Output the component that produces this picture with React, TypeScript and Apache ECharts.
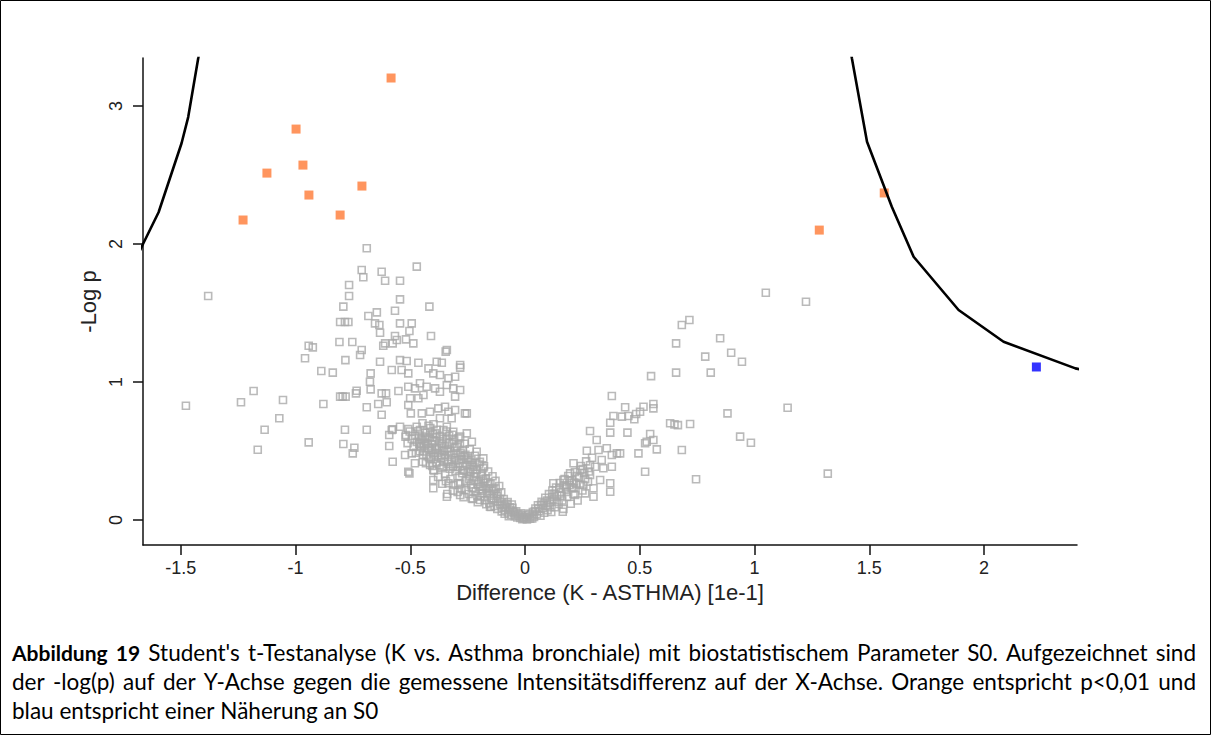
import React, { useEffect, useRef } from "react";
import * as echarts from "echarts";

const xTickValues = [-1.5, -1, -0.5, 0, 0.5, 1, 1.5, 2];
const yTickValues = [0, 1, 2, 3];
const xAxisName = "Difference (K - ASTHMA) [1e-1]";
const yAxisName = "-Log p";

// grey: not significant (sparse / outlying proteins)
const greyOuter: [number, number][] = [
  [-1.381, 1.623], [-1.478, 0.828], [-1.238, 0.853], [-1.183, 0.935], [-1.055, 0.87], [-1.135, 0.654],
  [-1.071, 0.737], [-1.165, 0.509], [-0.943, 0.563], [-0.879, 0.841], [-0.959, 1.172], [-0.943, 1.263],
  [-0.925, 1.251], [-0.888, 1.08], [-0.838, 1.068], [-0.809, 1.29], [-0.783, 1.159], [-0.753, 1.29],
  [-0.792, 1.546], [-0.767, 1.623], [-0.767, 1.703], [-0.806, 1.435], [-0.785, 1.435], [-0.77, 1.435],
  [-0.712, 1.232], [-0.719, 1.196], [-0.683, 1.478], [-0.646, 1.505], [-0.654, 1.425], [-0.635, 1.413],
  [-0.632, 1.357], [-0.61, 1.28], [-0.618, 1.263], [-0.567, 1.517], [-0.545, 1.599], [-0.545, 1.425],
  [-0.494, 1.425], [-0.519, 1.309], [-0.487, 1.28], [-0.417, 1.546], [-0.41, 1.333], [-0.632, 1.147],
  [-0.673, 1.063], [-0.676, 1.002], [-0.673, 0.947], [-0.734, 0.937], [-0.737, 0.918], [-0.806, 0.894],
  [-0.795, 0.894], [-0.782, 0.894], [-0.69, 0.817], [-0.64, 0.841], [-0.603, 0.853], [-0.625, 0.918],
  [-0.606, 0.918], [-0.625, 0.763], [-0.785, 0.654], [-0.69, 0.654], [-0.792, 0.551], [-0.744, 0.524],
  [-0.751, 0.483], [-0.577, 0.422], [-0.504, 0.338], [-0.592, 0.536], [-0.592, 0.616], [-0.577, 0.657],
  [-0.545, 0.676], [-0.523, 0.471], [-0.494, 0.483], [-0.48, 0.411], [-0.446, 0.422],
  [-0.69, 1.969], [-0.712, 1.812], [-0.705, 1.759], [-0.625, 1.799], [-0.61, 1.734], [-0.545, 1.734],
  [-0.472, 1.836],
  [-0.504, 1.37], [-0.567, 1.333], [-0.559, 1.304], [-0.577, 1.28], [-0.341, 1.232], [-0.346, 1.22],
  [-0.545, 1.159], [-0.516, 1.152], [-0.465, 1.14], [-0.385, 1.147], [-0.363, 1.14], [-0.283, 1.123],
  [-0.581, 1.087], [-0.538, 1.087], [-0.509, 1.063], [-0.283, 1.104], [-0.421, 1.099], [-0.4, 1.063],
  [-0.371, 1.051], [-0.334, 1.027], [-0.305, 1.038], [-0.552, 0.935],
  [-0.509, 0.966], [-0.48, 0.954], [-0.458, 0.991], [-0.429, 0.966], [-0.392, 0.954], [-0.371, 0.93],
  [-0.341, 0.978], [-0.313, 0.954], [-0.283, 0.942], [-0.305, 0.894], [-0.501, 0.882], [-0.465, 0.882],
  [-0.443, 0.906], [-0.509, 0.833], [-0.498, 0.773], [-0.45, 0.773], [-0.414, 0.785], [-0.378, 0.809],
  [-0.349, 0.821], [-0.334, 0.785], [-0.305, 0.797], [-0.262, 0.773], [-0.371, 0.737], [-0.32, 0.737],
  [-0.581, 0.652], [-0.509, 0.659], [-0.472, 0.676], [-0.519, 0.616], [-0.458, 0.652], [-0.414, 0.64],
  [-0.392, 0.628], [-0.436, 0.592], [-0.407, 0.58], [-0.458, 0.556], [-0.421, 0.52], [-0.341, 0.676],
  [-0.313, 0.64], [-0.283, 0.604], [-0.254, 0.628], [-0.232, 0.567],
  [-0.385, 0.52], [-0.363, 0.471], [-0.341, 0.495], [-0.32, 0.435], [-0.283, 0.471], [-0.24, 0.422],
  [-0.211, 0.495], [-0.182, 0.447], [-0.414, 0.399], [-0.363, 0.375], [-0.313, 0.386], [-0.269, 0.362],
  [-0.225, 0.386], [-0.182, 0.375],
  [-0.254, 0.773], [-0.509, 0.35], [-0.4, 0.483], [-0.4, 0.362], [-0.4, 0.29], [-0.4, 0.23],
  [-0.356, 0.386], [-0.334, 0.266], [-0.341, 0.169], [-0.291, 0.266], [-0.283, 0.181], [-0.232, 0.23],
  [-0.232, 0.157], [-0.196, 0.145], [-0.196, 0.241], [-0.153, 0.096],
  [0.549, 1.043], [0.658, 1.068], [0.378, 0.899], [0.436, 0.817], [0.516, 0.821], [0.559, 0.841],
  [0.501, 0.785], [0.559, 0.809], [0.385, 0.754], [0.422, 0.749], [0.45, 0.754], [0.476, 0.73],
  [0.484, 0.768], [0.371, 0.705], [0.632, 0.701], [0.651, 0.693], [0.666, 0.688], [0.719, 0.696],
  [0.283, 0.645], [0.371, 0.633], [0.446, 0.633], [0.545, 0.623], [0.53, 0.567], [0.559, 0.58],
  [0.574, 0.512], [0.494, 0.483], [0.523, 0.556], [0.523, 0.35], [0.312, 0.58], [0.32, 0.507],
  [0.269, 0.502], [0.356, 0.52], [0.378, 0.471], [0.4, 0.483], [0.414, 0.483],
  [0.334, 0.435], [0.378, 0.386], [0.341, 0.375], [0.305, 0.386], [0.283, 0.326], [0.24, 0.362],
  [0.211, 0.411], [0.196, 0.338], [0.167, 0.29], [0.123, 0.266], [0.371, 0.266], [0.298, 0.23],
  [0.254, 0.254], [0.211, 0.23], [0.182, 0.241], [0.298, 0.169], [0.262, 0.193], [0.218, 0.181],
  [0.371, 0.205], [0.327, 0.29], [0.164, 0.06],
  [1.049, 1.647], [1.224, 1.582], [0.716, 1.449], [0.683, 1.413], [0.85, 1.317], [0.658, 1.28],
  [0.785, 1.184], [0.898, 1.212], [0.945, 1.147], [0.809, 1.068], [1.144, 0.814], [0.882, 0.773],
  [0.937, 0.604], [0.984, 0.56], [0.683, 0.507], [0.745, 0.295], [1.319, 0.336],
];

// grey: dense V-shaped core around zero difference
const greyCore: [number, number][] = [
  [-0.012, 0.006], [-0.021, 0.015], [-0.008, 0.02], [-0.034, 0.018], [-0.029, 0.041], [-0.045, 0.027],
  [-0.052, 0.061], [-0.061, 0.038], [-0.067, 0.092], [-0.074, 0.055], [-0.081, 0.118], [-0.086, 0.071],
  [-0.093, 0.152], [-0.098, 0.087], [-0.104, 0.201], [-0.109, 0.112], [-0.113, 0.246], [-0.118, 0.138],
  [-0.124, 0.175], [-0.129, 0.284], [-0.133, 0.102], [-0.138, 0.221], [-0.142, 0.317], [-0.147, 0.158],
  [-0.151, 0.262], [-0.156, 0.123], [-0.161, 0.352], [-0.166, 0.198], [-0.171, 0.301], [-0.175, 0.143],
  [-0.179, 0.389], [-0.184, 0.244], [-0.188, 0.336], [-0.193, 0.171], [-0.197, 0.421], [-0.202, 0.278],
  [-0.206, 0.129], [-0.211, 0.362], [-0.215, 0.208], [-0.219, 0.466], [-0.224, 0.315], [-0.228, 0.152],
  [-0.233, 0.398], [-0.237, 0.257], [-0.241, 0.512], [-0.246, 0.189], [-0.25, 0.347], [-0.255, 0.438],
  [-0.259, 0.284], [-0.263, 0.553], [-0.268, 0.166], [-0.272, 0.391], [-0.277, 0.226], [-0.281, 0.487],
  [-0.286, 0.318], [-0.29, 0.592], [-0.294, 0.203], [-0.299, 0.431], [-0.303, 0.356], [-0.308, 0.524],
  [-0.312, 0.255], [-0.317, 0.618], [-0.321, 0.472], [-0.325, 0.297], [-0.33, 0.561], [-0.334, 0.408],
  [-0.339, 0.189], [-0.343, 0.642], [-0.348, 0.337], [-0.352, 0.503], [-0.357, 0.588], [-0.361, 0.263],
  [-0.366, 0.447], [-0.37, 0.611], [-0.375, 0.532], [-0.379, 0.312], [-0.384, 0.654], [-0.388, 0.418],
  [-0.393, 0.571], [-0.397, 0.359], [-0.402, 0.623], [-0.407, 0.506], [-0.411, 0.441], [-0.416, 0.598],
  [-0.421, 0.683], [-0.425, 0.553], [-0.43, 0.472], [-0.436, 0.632], [-0.441, 0.537], [-0.447, 0.701],
  [-0.453, 0.589], [-0.459, 0.498], [-0.466, 0.643], [-0.472, 0.566], [-0.479, 0.611], [-0.486, 0.529],
  [-0.494, 0.588], [-0.503, 0.642], [-0.512, 0.557], [-0.521, 0.603],
  [-0.058, 0.112], [-0.071, 0.028], [-0.089, 0.045], [-0.102, 0.063], [-0.121, 0.081], [-0.136, 0.192],
  [-0.149, 0.094], [-0.158, 0.231], [-0.169, 0.114], [-0.182, 0.296], [-0.19, 0.212], [-0.208, 0.173],
  [-0.217, 0.412], [-0.226, 0.234], [-0.238, 0.352], [-0.245, 0.297], [-0.257, 0.218], [-0.266, 0.461],
  [-0.274, 0.339], [-0.283, 0.262], [-0.292, 0.384], [-0.305, 0.452], [-0.314, 0.213], [-0.327, 0.372],
  [-0.336, 0.518], [-0.345, 0.281], [-0.354, 0.421], [-0.363, 0.551], [-0.372, 0.397], [-0.381, 0.487],
  [-0.395, 0.458], [-0.404, 0.392], [-0.418, 0.518], [-0.432, 0.411], [-0.445, 0.469], [-0.461, 0.552],
  [-0.476, 0.487],
  [-0.462, 0.612], [-0.455, 0.532], [-0.448, 0.577], [-0.439, 0.496], [-0.433, 0.561], [-0.427, 0.604],
  [-0.419, 0.455], [-0.413, 0.667], [-0.406, 0.548], [-0.399, 0.694], [-0.391, 0.512], [-0.386, 0.598],
  [-0.377, 0.458], [-0.369, 0.571], [-0.362, 0.508], [-0.356, 0.652], [-0.35, 0.469], [-0.344, 0.583],
  [-0.338, 0.431], [-0.331, 0.611], [-0.326, 0.497], [-0.319, 0.553], [-0.315, 0.392], [-0.309, 0.581],
  [-0.302, 0.486], [-0.296, 0.528], [-0.289, 0.412], [-0.284, 0.552], [-0.278, 0.441], [-0.271, 0.509],
  [-0.265, 0.358], [-0.26, 0.472], [-0.253, 0.401], [-0.247, 0.448], [-0.24, 0.318], [-0.234, 0.434],
  [-0.227, 0.367], [-0.221, 0.289], [-0.214, 0.336], [-0.207, 0.258], [-0.2, 0.402], [-0.192, 0.319],
  [-0.186, 0.192], [-0.177, 0.268], [-0.17, 0.229], [-0.163, 0.274], [-0.154, 0.186], [-0.146, 0.211],
  [-0.137, 0.158], [-0.128, 0.226], [-0.119, 0.189], [-0.11, 0.154], [-0.101, 0.131], [-0.092, 0.109],
  [-0.083, 0.091], [-0.076, 0.131], [-0.064, 0.071], [-0.055, 0.089], [-0.047, 0.052], [-0.039, 0.063],
  [-0.026, 0.029], [-0.018, 0.048],
  [0.008, 0.004], [0.015, 0.018], [0.022, 0.009], [0.028, 0.031], [0.034, 0.058], [0.039, 0.022],
  [0.045, 0.083], [0.051, 0.041], [0.056, 0.107], [0.062, 0.064], [0.067, 0.031], [0.072, 0.132],
  [0.077, 0.087], [0.083, 0.053], [0.088, 0.161], [0.093, 0.104], [0.098, 0.072], [0.104, 0.188],
  [0.109, 0.129], [0.114, 0.058], [0.119, 0.214], [0.124, 0.151], [0.13, 0.093], [0.135, 0.236],
  [0.14, 0.176], [0.146, 0.117], [0.151, 0.268], [0.156, 0.203], [0.162, 0.142], [0.167, 0.081],
  [0.172, 0.297], [0.177, 0.228], [0.183, 0.167], [0.188, 0.319], [0.194, 0.254], [0.199, 0.118],
  [0.205, 0.288], [0.211, 0.189], [0.217, 0.348], [0.223, 0.262], [0.229, 0.142], [0.236, 0.307],
  [0.243, 0.392], [0.25, 0.214], [0.258, 0.341], [0.266, 0.425], [0.274, 0.278], [0.283, 0.397],
  [0.292, 0.451], [-0.005, 0.012], [0.004, 0.024], [-0.016, 0.035], [0.012, 0.038],
  [0.019, 0.046], [0.031, 0.011], [0.043, 0.064], [0.058, 0.083], [0.069, 0.109], [0.081, 0.122],
  [0.096, 0.141], [0.107, 0.093], [0.117, 0.168], [0.128, 0.191], [0.138, 0.132], [0.149, 0.229],
  [0.159, 0.176], [0.171, 0.252], [0.181, 0.204], [0.193, 0.286], [0.203, 0.231], [0.214, 0.271],
  [0.226, 0.318], [0.238, 0.256], [0.251, 0.369], [0.262, 0.296], [0.278, 0.352],
];

// orange: p < 0.01
const orangePoints: [number, number][] = [
  [-1.229, 2.174], [-1.125, 2.514], [-0.998, 2.833], [-0.968, 2.572], [-0.942, 2.355],
  [-0.806, 2.21], [-0.711, 2.42], [-0.584, 3.203], [1.282, 2.101], [1.565, 2.37],
];

// blue: close to S0
const bluePoints: [number, number][] = [[2.228, 1.109]];

// S0 significance curves
const leftCurve: [number, number][] = [
  [-1.7, 1.88], [-1.665, 2.0], [-1.597, 2.23], [-1.497, 2.73], [-1.468, 2.92], [-1.424, 3.35], [-1.41, 3.49],
];
const rightCurve: [number, number][] = [
  [1.41, 3.5], [1.424, 3.346], [1.49, 2.741], [1.598, 2.27], [1.693, 1.908], [1.889, 1.522],
  [2.085, 1.292], [2.398, 1.099], [2.45, 1.08],
];

const captionBold = "Abbildung 19";
const captionLines = [
  "Student's t-Testanalyse (K vs. Asthma bronchiale) mit biostatistischem Parameter S0. Aufgezeichnet sind",
  "der -log(p) auf der Y-Achse gegen die gemessene Intensitätsdifferenz auf der X-Achse. Orange entspricht p<0,01 und",
  "blau entspricht einer Näherung an S0",
];
const captionJustified = [true, true, false];

const CAPTION_FAMILY = "Lato";
const CAPTION_SIZE = 22.5;
const CAPTION_BOLD_SIZE = 21;
const CAPTION_LEFT = 12;
const CAPTION_RIGHT = 1196;
const CAPTION_TOP = 652;
const CAPTION_STEP = 29;

function buildCaption(): any[] {
  const canvas = document.createElement("canvas");
  const ctx = canvas.getContext("2d")!;
  const measure = (s: string, bold: boolean) => {
    ctx.font = `${bold ? "bold " : ""}${bold ? CAPTION_BOLD_SIZE : CAPTION_SIZE}px ${CAPTION_FAMILY}`;
    return ctx.measureText(s).width;
  };
  const out: any[] = [];
  captionLines.forEach((line, i) => {
    const words: { t: string; b: boolean }[] = [];
    if (i === 0) captionBold.split(" ").forEach((w) => words.push({ t: w, b: true }));
    line.split(" ").forEach((w) => words.push({ t: w, b: false }));
    const y = CAPTION_TOP + i * CAPTION_STEP;
    const widths = words.map((w) => measure(w.t, w.b));
    const total = widths.reduce((a, b) => a + b, 0);
    const natural = measure(" ", false);
    const gap = captionJustified[i]
      ? Math.max(natural * 0.8, (CAPTION_RIGHT - CAPTION_LEFT - total) / (words.length - 1))
      : natural;
    let x = CAPTION_LEFT;
    words.forEach((w, k) => {
      out.push({
        type: "text",
        x,
        y,
        silent: true,
        style: {
          text: w.t,
          fontFamily: CAPTION_FAMILY,
          fontSize: w.b ? CAPTION_BOLD_SIZE : CAPTION_SIZE,
          fontWeight: w.b ? "bold" : "normal",
          fill: "#000",
          verticalAlign: "middle",
          align: "left",
        },
      });
      x += widths[k] + gap;
    });
  });
  return out;
}

export default function App() {
  const ref = useRef<HTMLDivElement>(null);

  useEffect(() => {
    document.body.style.margin = "0";
    const chart = echarts.init(ref.current!, null, { renderer: "svg" });
    const axisFont = "'Liberation Sans', Arial, sans-serif";
    chart.setOption({
      animation: false,
      backgroundColor: "#ffffff",
      grid: { left: 143, top: 58, right: 135, bottom: 191, containLabel: false },
      xAxis: {
        type: "value",
        min: -1.665,
        max: 2.405,
        name: xAxisName,
        nameLocation: "middle",
        nameGap: 36,
        nameTextStyle: { fontFamily: axisFont, fontSize: 22, color: "#222" },
        axisLine: { show: true, onZero: false, lineStyle: { color: "#111", width: 1.5 } },
        axisTick: { show: true, length: 10, customValues: xTickValues, lineStyle: { color: "#111", width: 1.5 } },
        axisLabel: { customValues: xTickValues, margin: 14, fontFamily: axisFont, fontSize: 18, color: "#222" },
        splitLine: { show: false },
      },
      yAxis: {
        type: "value",
        min: -0.181,
        max: 3.348,
        name: yAxisName,
        nameLocation: "middle",
        nameRotate: 90,
        nameGap: 32,
        nameTextStyle: { fontFamily: axisFont, fontSize: 22, color: "#222" },
        axisLine: { show: true, onZero: false, lineStyle: { color: "#111", width: 1.5 } },
        axisTick: { show: true, length: 10, customValues: yTickValues, lineStyle: { color: "#111", width: 1.5 } },
        axisLabel: { customValues: yTickValues, rotate: 90, margin: 18, fontFamily: axisFont, fontSize: 18, color: "#222" },
        splitLine: { show: false },
      },
      series: [
        {
          type: "scatter",
          data: [...greyCore, ...greyOuter],
          symbol: "rect",
          symbolSize: 7,
          itemStyle: { color: "rgba(0,0,0,0)", borderColor: "#a9a9a9", borderWidth: 1.6 },
          silent: true,
        },
        {
          type: "scatter",
          data: orangePoints,
          symbol: "rect",
          symbolSize: 9,
          itemStyle: { color: "#ff7a36" },
          silent: true,
        },
        {
          type: "scatter",
          data: bluePoints,
          symbol: "rect",
          symbolSize: 9,
          itemStyle: { color: "#0000ff" },
          silent: true,
        },
        {
          type: "line",
          data: leftCurve,
          showSymbol: false,
          clip: true,
          lineStyle: { color: "#000", width: 2.6 },
          silent: true,
        },
        {
          type: "line",
          data: rightCurve,
          showSymbol: false,
          clip: true,
          lineStyle: { color: "#000", width: 2.6 },
          silent: true,
        },
      ],
      graphic: [
        {
          type: "rect",
          shape: { x: 0.5, y: 0.5, width: 1210, height: 734 },
          style: { fill: "none", stroke: "#000", lineWidth: 1 },
          silent: true,
        },
        ...buildCaption(),
      ],
    });
    return () => chart.dispose();
  }, []);

  return <div ref={ref} style={{ width: 1212, height: 736 }} />;
}
